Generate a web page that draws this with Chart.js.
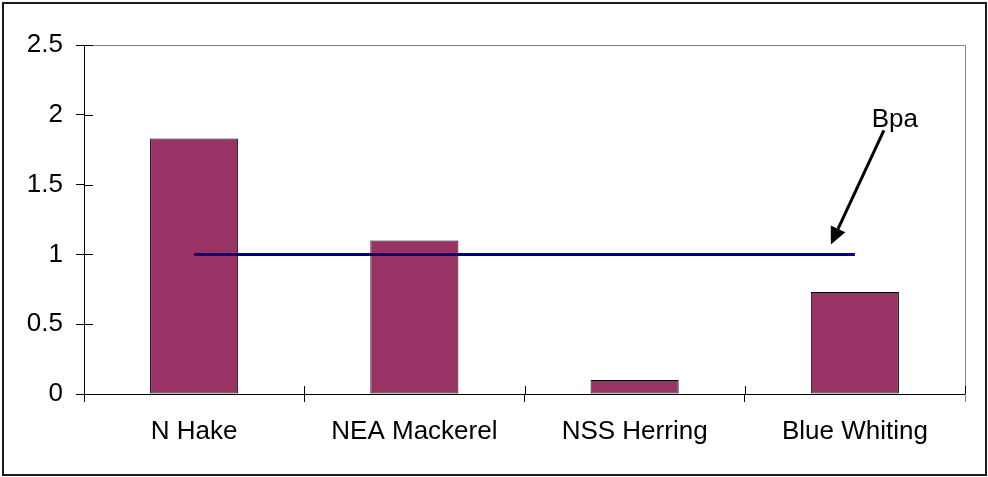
<!DOCTYPE html>
<html>
<head>
<meta charset="utf-8">
<script src="https://cdn.jsdelivr.net/npm/chart.js@4/dist/chart.umd.min.js"></script>
<style>
  html, body { margin: 0; padding: 0; background: #ffffff; }
  #wrap { width: 988px; height: 477px; }
</style>
</head>
<body>
<div id="wrap"><canvas id="c" width="988" height="477"></canvas></div>
<script>
// Stocks and their biomass ratio
const categories = ['N Hake', 'NEA Mackerel', 'NSS Herring', 'Blue Whiting'];
const stockValues = [1.83, 1.10, 0.10, 0.73];
// Precautionary reference level (Bpa)
const bpaValues = [1, 1, 1, 1];
const bpaLabel = 'Bpa';
const yTicks = [0, 0.5, 1, 1.5, 2, 2.5];

const FONT = { family: '"Liberation Sans", Arial, sans-serif', size: 26 };
const TICK = 8;

// Frame, plot-area border, inner tick halves and the Bpa callout
const decorations = {
  id: 'decorations',
  beforeDraw(chart) {
    const ctx = chart.ctx;
    ctx.save();
    ctx.fillStyle = '#ffffff';
    ctx.fillRect(0, 0, chart.width, chart.height);
    ctx.restore();
  },
  afterDraw(chart) {
    const { ctx, chartArea: a, scales } = chart;
    ctx.save();
    // outer frame
    ctx.strokeStyle = '#1a1a1a';
    ctx.lineWidth = 2;
    ctx.strokeRect(3, 3, chart.width - 5, chart.height - 5);

    // grey plot-area border on top and right
    ctx.strokeStyle = '#808080';
    ctx.lineWidth = 1;
    ctx.beginPath();
    ctx.moveTo(Math.round(a.left) + 0.5, Math.round(a.top) + 0.5);
    ctx.lineTo(Math.round(a.right) + 0.5, Math.round(a.top) + 0.5);
    ctx.lineTo(Math.round(a.right) + 0.5, Math.round(a.bottom) + TICK);
    ctx.stroke();

    // inner halves of the cross tick marks
    ctx.strokeStyle = '#000000';
    ctx.beginPath();
    yTicks.forEach(v => {
      const py = Math.round(scales.y.getPixelForValue(v)) + 0.5;
      ctx.moveTo(a.left, py);
      ctx.lineTo(a.left + TICK + 1, py);
    });
    for (let i = 0; i <= categories.length; i++) {
      const px = Math.round(scales.x.getPixelForValue(i - 0.5)) + 0.5;
      ctx.moveTo(px, a.bottom);
      ctx.lineTo(px, a.bottom - TICK);
    }
    ctx.stroke();

    // Bpa label with arrow pointing at the reference line
    const lineEndX = scales.x.getPixelForValue(categories.length - 1);
    const lineY = scales.y.getPixelForValue(bpaValues[bpaValues.length - 1]);
    const tipX = lineEndX - 24, tipY = lineY - 10;
    const tailX = lineEndX + 29, tailY = lineY - 124;
    ctx.font = FONT.size + 'px ' + FONT.family;
    ctx.fillStyle = '#000000';
    ctx.textAlign = 'center';
    ctx.textBaseline = 'middle';
    ctx.fillText(bpaLabel, lineEndX + 40, lineY - 135);

    const ang = Math.atan2(tipY - tailY, tipX - tailX);
    const headLen = 17, headW = 8;
    const bx = tipX - headLen * Math.cos(ang), by = tipY - headLen * Math.sin(ang);
    ctx.strokeStyle = '#000000';
    ctx.lineWidth = 3;
    ctx.beginPath();
    ctx.moveTo(tailX, tailY);
    ctx.lineTo(bx, by);
    ctx.stroke();
    ctx.beginPath();
    ctx.moveTo(tipX, tipY);
    ctx.lineTo(bx + headW * Math.sin(ang), by - headW * Math.cos(ang));
    ctx.lineTo(bx - headW * Math.sin(ang), by + headW * Math.cos(ang));
    ctx.closePath();
    ctx.fill();
    ctx.restore();
  }
};

new Chart(document.getElementById('c'), {
  data: {
    labels: categories,
    datasets: [
      {
        type: 'line',
        label: bpaLabel,
        data: bpaValues,
        borderColor: '#000080',
        borderWidth: 3,
        pointRadius: 0,
        fill: false,
        order: 0
      },
      {
        type: 'bar',
        label: 'Stock',
        data: stockValues,
        backgroundColor: '#993366',
        borderColor: '#000000',
        borderWidth: 1,
        borderSkipped: false,
        categoryPercentage: 1.0,
        barPercentage: 0.4,
        order: 1
      }
    ]
  },
  options: {
    responsive: false,
    animation: false,
    devicePixelRatio: 1,
    layout: { padding: { left: 0, top: 45, right: 23, bottom: 0 } },
    plugins: { legend: { display: false }, tooltip: { enabled: false } },
    scales: {
      x: {
        type: 'category',
        offset: true,
        grid: { display: true, offset: true, drawOnChartArea: false, drawTicks: true, tickLength: TICK, color: '#000000', lineWidth: 1 },
        border: { display: true, color: '#000000', width: 1 },
        ticks: { color: '#000000', font: FONT, padding: 14, maxRotation: 0, autoSkip: false },
        afterFit(s) { s.height = 83; }
      },
      y: {
        min: 0,
        max: 2.5,
        afterBuildTicks(s) { s.ticks = yTicks.map(v => ({ value: v })); },
        grid: { display: true, drawOnChartArea: false, drawTicks: true, tickLength: TICK, color: '#000000', lineWidth: 1 },
        border: { display: true, color: '#000000', width: 1 },
        ticks: { color: '#000000', font: FONT, padding: 13, callback: v => String(v) },
        afterFit(s) { s.width = 84; }
      }
    }
  },
  plugins: [decorations]
});
</script>
</body>
</html>
